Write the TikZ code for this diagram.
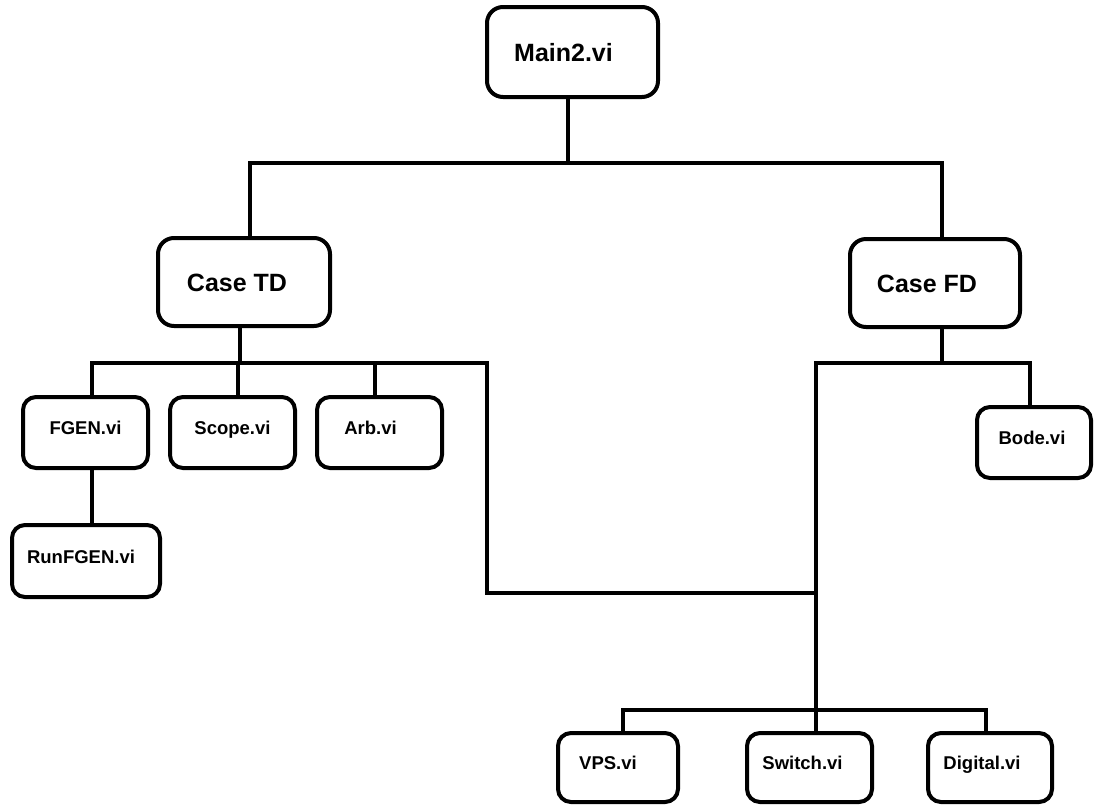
\documentclass[tikz,border=0pt]{standalone}
\usepackage{fontspec}
\setmainfont{Liberation Sans}
\begin{document}
\begin{tikzpicture}[x=1pt,y=-1pt,
  box/.style={draw, line width=4pt, rounded corners=13pt, fill=white, inner sep=0pt,
    text height=13.2pt, text depth=9pt,
    font=\fontsize{18.5}{20}\selectfont\bfseries},
  bigbox/.style={box, rounded corners=16pt, text height=18pt, text depth=0pt,
    font=\fontsize{25}{28}\selectfont\bfseries},
  leftish/.style={execute at begin node={\hspace*{-#1pt}}, execute at end node={\hspace*{#1pt}}},
  wire/.style={line width=4pt}]
\useasboundingbox (0,0) rectangle (1094,804);
% nodes
\node[bigbox, leftish=9, minimum width=171pt, minimum height=90pt] (main) at (572.5,52) {Main2.vi};
\node[bigbox, leftish=7, minimum width=172pt, minimum height=88pt] (casetd) at (244,282) {Case TD};
\node[bigbox, leftish=8, minimum width=170pt, minimum height=88pt] (casefd) at (935,283) {Case FD};
\node[box, minimum width=125pt, minimum height=71pt] (fgen) at (85.5,432.5) {FGEN.vi};
\node[box, minimum width=125pt, minimum height=71pt] (scope) at (232.5,432.5) {Scope.vi};
\node[box, leftish=9, minimum width=125pt, minimum height=71pt] (arb) at (379.5,432.5) {Arb.vi};
\node[box, leftish=5, minimum width=148pt, minimum height=72pt] (runfgen) at (86,561) {RunFGEN.vi};
\node[box, leftish=2, minimum width=114pt, minimum height=71pt] (bode) at (1034,442.5) {Bode.vi};
\node[box, leftish=10, minimum width=120pt, minimum height=69pt] (vps) at (618,767.5) {VPS.vi};
\node[box, leftish=7, minimum width=125pt, minimum height=69pt] (switch) at (809.5,767.5) {Switch.vi};
\node[box, leftish=8, minimum width=124pt, minimum height=69pt] (digital) at (990,767.5) {Digital.vi};
% junction coordinates
\coordinate (m1) at (568,163);
\coordinate (t1) at (250,163);
\coordinate (t2) at (942,163);
\coordinate (d1) at (240,363);
\coordinate (a1) at (92,363);
\coordinate (a2) at (238,363);
\coordinate (a3) at (375,363);
\coordinate (a4) at (487,363);
\coordinate (a5) at (487,593);
\coordinate (a6) at (816,593);
\coordinate (f1) at (942,363);
\coordinate (f2) at (816,363);
\coordinate (f3) at (1030,363);
\coordinate (g1) at (816,710);
\coordinate (g2) at (623,710);
\coordinate (g3) at (986,710);
% connectors
\draw[wire] (main.south -| m1) -- (m1);
\draw[wire] (casetd.north -| t1) -- (t1) -- (t2) -- (casefd.north -| t2);
\draw[wire] (casetd.south -| d1) -- (d1);
\draw[wire] (fgen.north -| a1) -- (a1) -- (a4) -- (a5) -- (a6);
\draw[wire] (scope.north -| a2) -- (a2);
\draw[wire] (arb.north -| a3) -- (a3);
\draw[wire] (fgen.south -| a1) -- (runfgen.north -| a1);
\draw[wire] (casefd.south -| f1) -- (f1);
\draw[wire] (g1) -- (f2) -- (f3) -- (bode.north -| f3);
\draw[wire] (vps.north -| g2) -- (g2) -- (g3) -- (digital.north -| g3);
\draw[wire] (g1) -- (switch.north -| g1);
\end{tikzpicture}
\end{document}
